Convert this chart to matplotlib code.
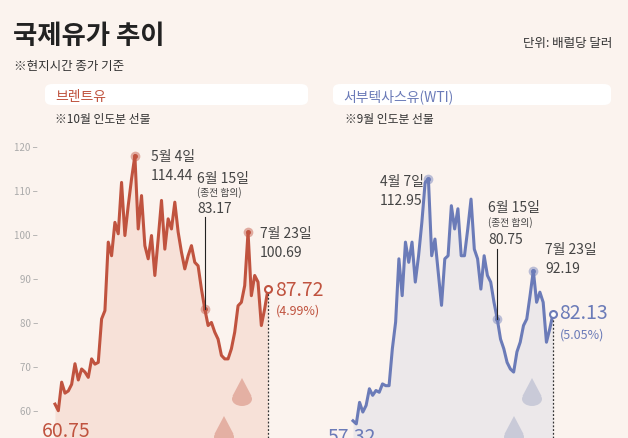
import matplotlib
matplotlib.use("Agg")
import matplotlib.pyplot as plt
import matplotlib.transforms as mtransforms
from matplotlib.patches import FancyBboxPatch, Circle, Polygon

plt.rcParams['font.family'] = ['Noto Sans CJK KR', 'DejaVu Sans']

brent = [61.5, 60, 66.5, 64, 64.5, 66, 70.7, 67, 69.5, 68.8, 67.6, 71.8, 70.6, 71, 80.9, 82.8,
         98.4, 95.3, 102.9, 100.3, 112, 99.9, 106.7, 112.8, 118.1, 101.4, 109, 97.6, 94.6, 99.9,
         90.8, 99.1, 107.9, 96.8, 103.7, 101.4, 107.5, 100.7, 96.1, 92.3, 95.3, 97.6, 93.8, 93,
         87.7, 83.2, 79.4, 80.1, 77.9, 76.3, 72.6, 71.8, 71.8, 74.1, 77.9, 83.9, 84.7, 88.5, 100.7,
         86.2, 90.8, 89.3, 79.4, 83.2, 87.7]
wti = [57.7, 57, 61.9, 59.7, 61.2, 65, 63.5, 64.6, 64.2, 66.1, 65.7, 65.7, 74.1, 80.2, 94.6, 86.2,
       98.4, 93.8, 98.4, 89.3, 95.3, 102.9, 112, 112.8, 95.3, 99.1, 91.5, 84, 94.6, 95.3, 106.7,
       101.4, 106, 95.3, 95.3, 101.4, 108.2, 96.8, 94.6, 87.7, 95.3, 90.8, 89.3, 84.7, 80.9, 76.3,
       74.1, 71, 69.5, 68.8, 73.4, 75.6, 79.4, 80.9, 86.2, 91.9, 84.7, 87, 84.7, 75.6, 78.6, 82.1]
yticks = [60, 70, 80, 90, 100, 110, 120]

W, H = 628, 439
BG = '#fbf3ee'
fig = plt.figure(figsize=(W/100, H/100), dpi=100, facecolor=BG)

def px(x, y):
    return x / W, 1 - y / H

def val(y):
    return 120 - (y - 148.3) / 4.39

tc = '#444444'
fig.text(*px(13, 44), '국제유가 추이', fontsize=19, fontweight='bold', color='#222222', va='baseline')
fig.text(*px(612, 47), '단위: 배럴당 달러', fontsize=9, color='#333333', ha='right', va='baseline')
fig.text(*px(14, 70), '※현지시간 종가 기준', fontsize=9, color='#333333', va='baseline')
for (x0, x1, label, col) in [(45, 308, '브렌트유', '#c0533f'), (333, 611, '서부텍사스유(WTI)', '#6b7bb8')]:
    fig.patches.append(FancyBboxPatch((x0 / W, 1 - 106 / H), (x1 - x0) / W, 21 / H,
                                      boxstyle='round,pad=0,rounding_size=0.012',
                                      transform=fig.transFigure, facecolor='white', edgecolor='none'))
    fig.text(*px(x0 + 10, 101), label, fontsize=10, color=col, va='baseline')
fig.text(*px(55, 123), '※10월 인도분 선물', fontsize=8.5, color='#333333', va='baseline')
fig.text(*px(345, 123), '※9월 인도분 선물', fontsize=8.5, color='#333333', va='baseline')

ytop = 120 + (148.3 - 130) / 4.39
ybot = 60 - (439 - 411.7) / 4.39

def panel(vals, x0, x1, col, fillc):
    ax = fig.add_axes([0, 0, 1, (439 - 130) / H])
    ax.set_facecolor('none')
    n = len(vals)
    s = (x1 - x0) / (n - 1)
    ax.set_xlim(-x0 / s, (W - x0) / s)
    ax.set_ylim(ybot, ytop)
    ax.axis('off')
    xs = list(range(n))
    ax.fill_between(xs, vals, ybot, color=fillc, lw=0)
    ax.plot(xs, vals, color=col, lw=2.2, solid_joinstyle='round')
    ax.plot([n - 1, n - 1], [ybot, vals[-1]], ls=(0, (1.5, 1.5)), color='#333333', lw=0.9)
    ax.plot([n - 1], [vals[-1]], 'o', ms=5, mfc='white', mec=col, mew=1.5)
    return ax

ax1 = panel(brent, 55, 268, '#c0533f', '#f7e1d8')
ax2 = panel(wti, 353, 553, '#6b7bb8', '#ece8ea')

def drop(cx, cy, r, col):
    fig.patches.append(Circle((cx / W, 1 - cy / H), r / W, transform=fig.transFigure,
                              facecolor=col, edgecolor='none'))
    fig.patches.append(Polygon([((cx - r * 0.95) / W, 1 - (cy - r * 0.3) / H),
                                ((cx + r * 0.95) / W, 1 - (cy - r * 0.3) / H),
                                (cx / W, 1 - (cy - r * 2.1) / H)], closed=True,
                               transform=fig.transFigure, facecolor=col, edgecolor='none'))
drop(242, 400, 10, '#e4b0a3'); drop(224, 438, 10, '#e4b0a3')
drop(532, 400, 10, '#c9cad8'); drop(514, 438, 10, '#c9cad8')

tr = mtransforms.blended_transform_factory(fig.transFigure, ax1.transData)
for t in yticks:
    ax1.text(38 / W, t, f'{t} –', transform=tr, ha='right', va='center', fontsize=7, color='#aaaaaa')

def ann(ax, i, v, col):
    ax.plot([i], [v], 'o', ms=7, color=col, alpha=0.45, mec='none')
    ax.plot([i], [v], 'o', ms=2.5, color=col)

def lab(x, y, s, size=10, color=tc, ha='left'):
    fig.text(*px(x, y), s, fontsize=size, color=color, va='center', ha=ha)

ib = brent.index(max(brent))
ann(ax1, ib, brent[ib], '#c0533f')
lab(151, 157, '5월 4일'); lab(151, 176, '114.44')
ann(ax1, 45, brent[45], '#c0533f')
ax1.plot([45, 45], [brent[45], val(218)], color='#222222', lw=0.8)
lab(197, 179, '6월 15일'); lab(197, 193, '(종전 합의)', 7); lab(197, 209, '83.17')
ann(ax1, 58, brent[58], '#c0533f')
lab(260, 234, '7월 23일'); lab(260, 253, '100.69')
lab(275, 291, '87.72', 14, '#c0533f'); lab(276, 311, '(4.99%)', 9, '#c0533f')
lab(42, 432, '60.75', 14, '#c0533f')

iw = wti.index(max(wti))
ann(ax2, iw, wti[iw], '#6b7bb8')
lab(380, 182, '4월 7일'); lab(380, 201, '112.95')
ann(ax2, 44, wti[44], '#6b7bb8')
ax2.plot([44, 44], [wti[44], val(250)], color='#222222', lw=0.8)
lab(488, 208, '6월 15일'); lab(488, 223, '(종전 합의)', 7); lab(488, 240, '80.75')
ann(ax2, 55, wti[55], '#6b7bb8')
lab(545, 250, '7월 23일'); lab(545, 269, '92.19')
lab(559, 314, '82.13', 14, '#6b7bb8'); lab(560, 335, '(5.05%)', 9, '#6b7bb8')
lab(328, 438, '57.32', 14, '#6b7bb8')

fig.savefig('out.png', dpi=100, facecolor=BG)
